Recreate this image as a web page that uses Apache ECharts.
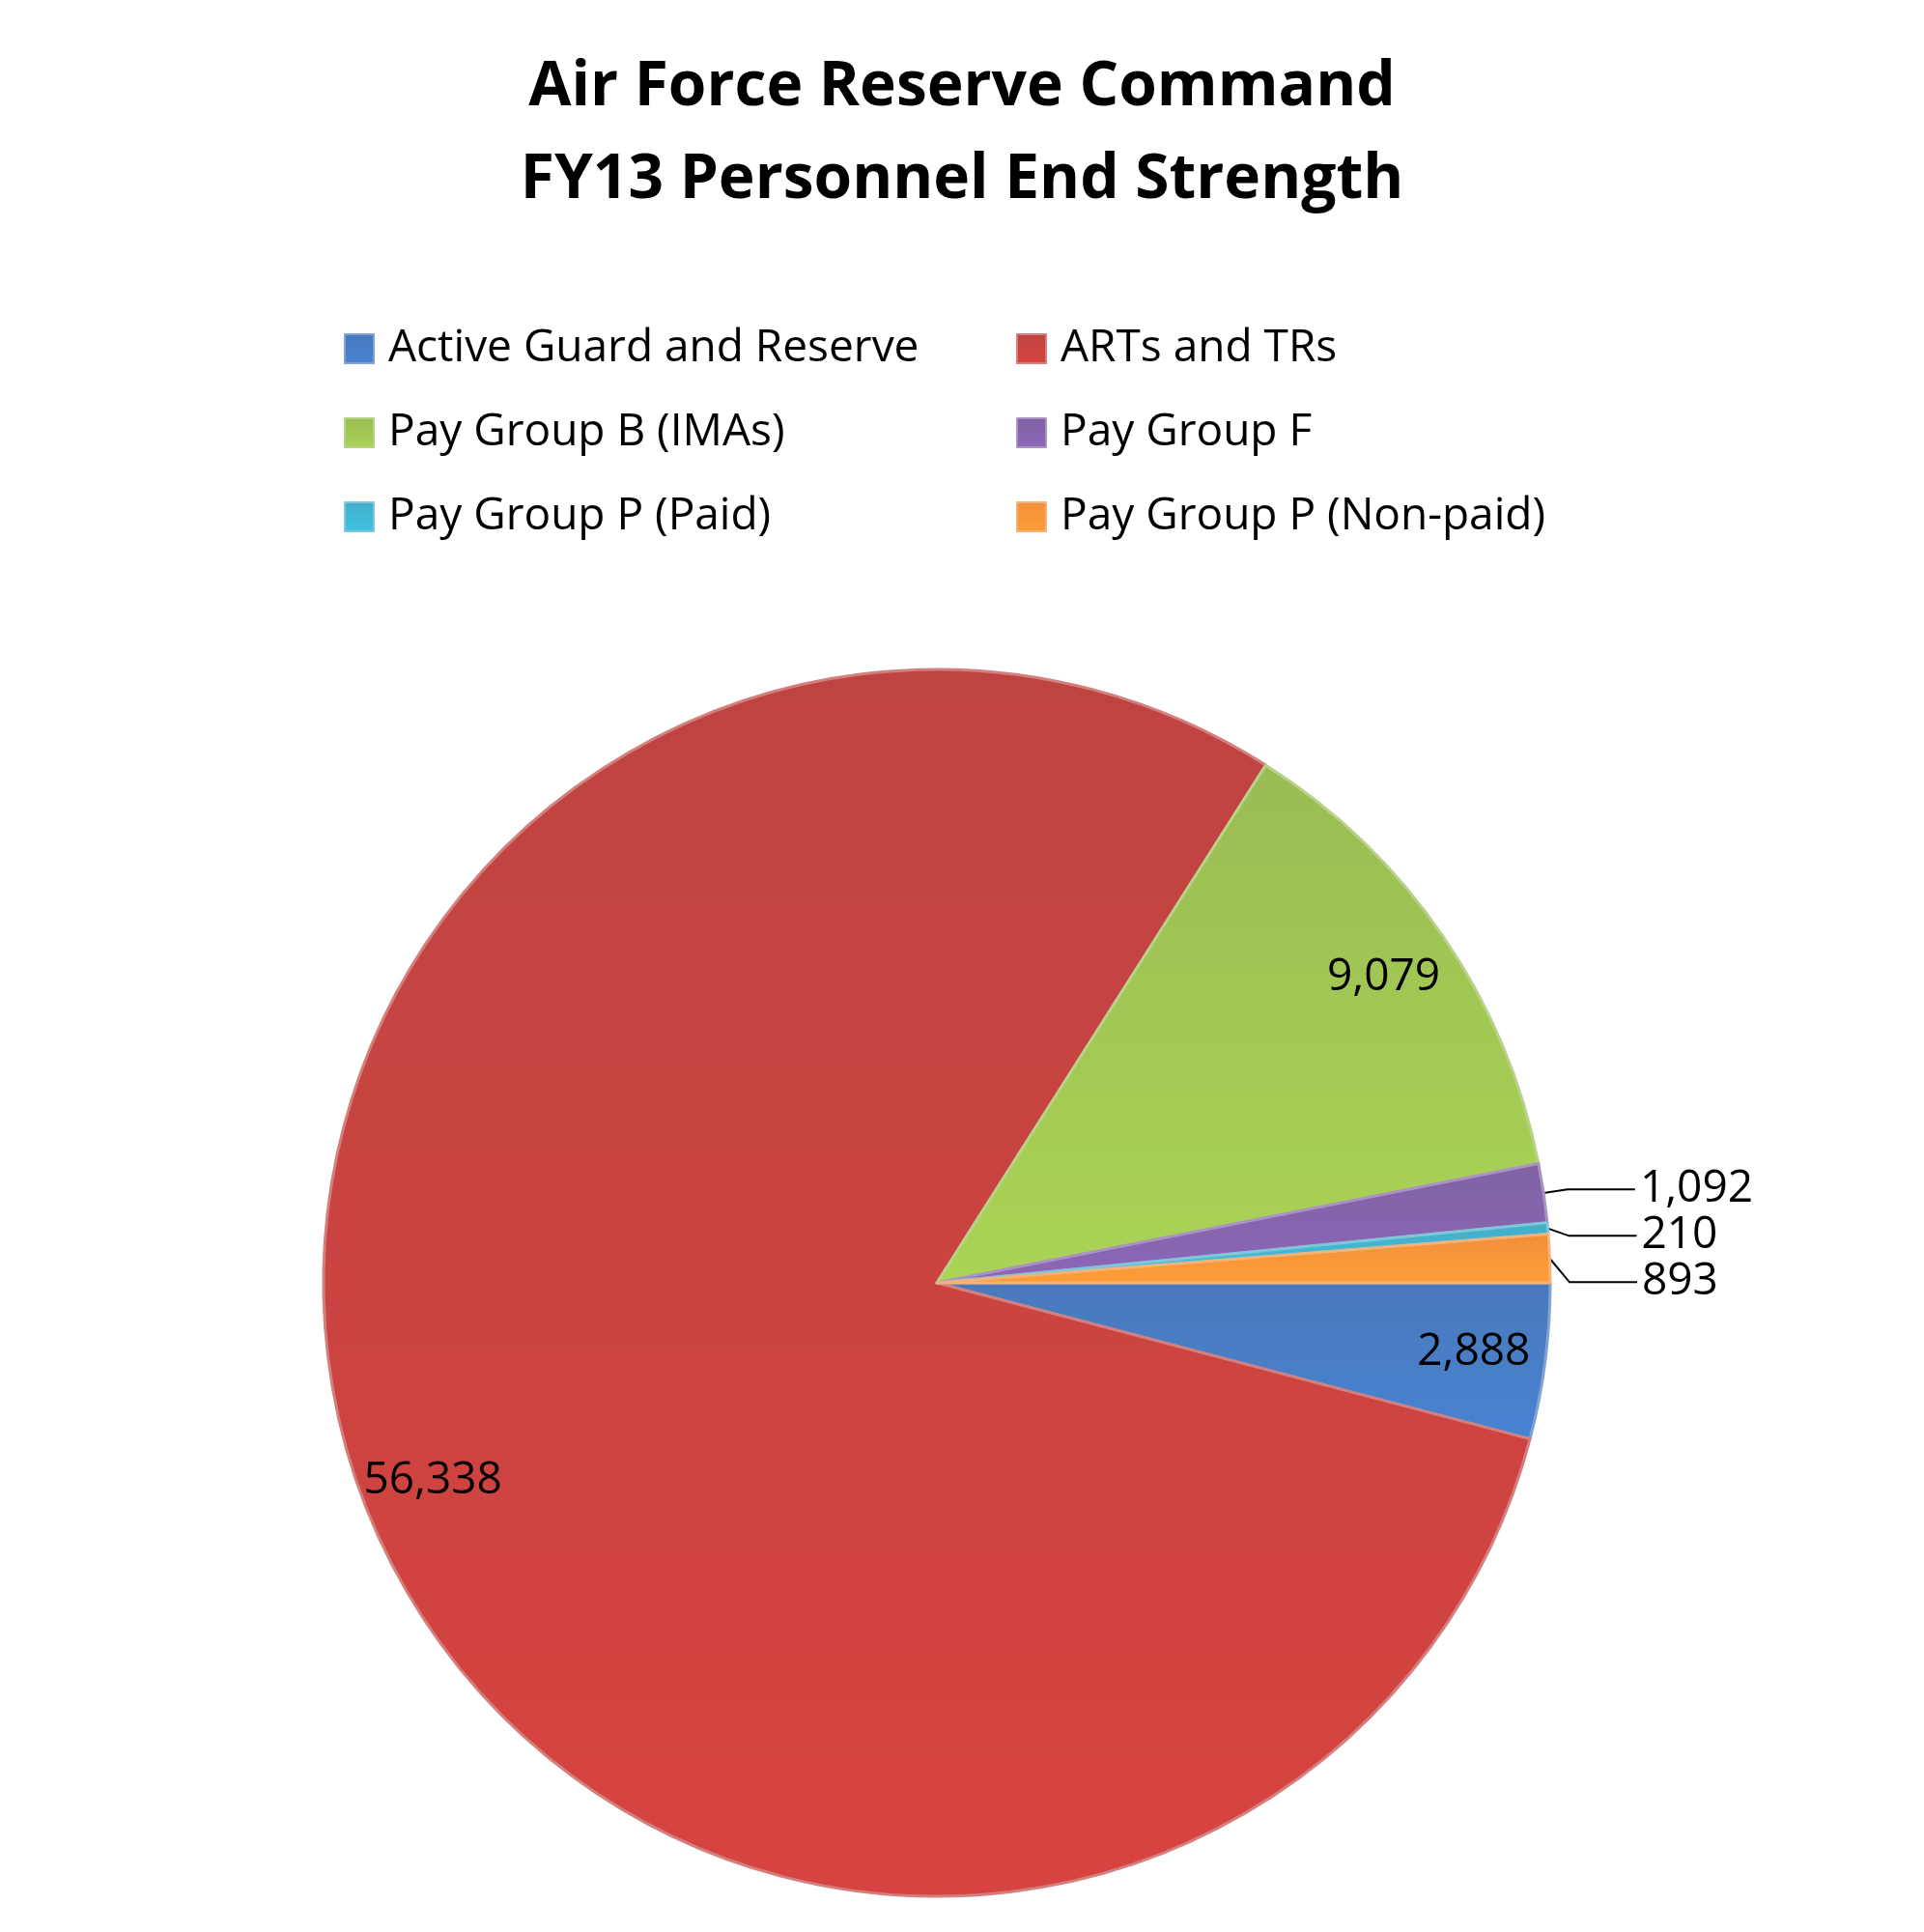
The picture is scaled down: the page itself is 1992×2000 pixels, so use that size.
<!DOCTYPE html>
<html><head><meta charset="utf-8">
<script src="https://cdn.jsdelivr.net/npm/echarts@6/dist/echarts.min.js"></script>
<style>html,body{margin:0;background:#fff}#c{width:1992px;height:2000px}</style>
</head><body><div id="c"></div>
<script>
const categories = ['Active Guard and Reserve','ARTs and TRs','Pay Group B (IMAs)','Pay Group F','Pay Group P (Paid)','Pay Group P (Non-paid)'];
const values = [2888, 56338, 9079, 1092, 210, 893];
const colors = ['#4072b8','#bb3b38','#94b94a','#7a5aa0','#3aa9c6','#f08a30'];
const insideLabels = [true, true, true, false, false, false];
const legendLeft = [categories[0], categories[2], categories[4]];
const legendRight = [categories[1], categories[3], categories[5]];

const chart = echarts.init(document.getElementById('c'));
const fmt = v => v.toLocaleString('en-US');
const shade = c => new echarts.graphic.LinearGradient(0,0,0,1,[{offset:0,color:echarts.color.lift(c,0.05)},{offset:1,color:echarts.color.lift(c,-0.15)}]);
const center = [970, 1328];
const legendBase = {orient:'vertical',top:333,itemGap:41,itemWidth:30,itemHeight:30,icon:'rect',
  textStyle:{fontFamily:'Open Sans',fontSize:46,color:'#000',padding:[0,0,0,10]}};
chart.setOption({
  backgroundColor:'#fff',
  title:{text:'Air Force Reserve Command\nFY13 Personnel End Strength',left:'center',top:38,
    textStyle:{fontFamily:'Open Sans',fontWeight:'bold',fontSize:64,lineHeight:96,color:'#000'}},
  legend:[Object.assign({left:351,data:legendLeft},legendBase),
          Object.assign({left:1047,data:legendRight},legendBase)],
  series:[{
    type:'pie',center:center,radius:[0,635],startAngle:0,clockwise:true,
    data:categories.map((n,i)=>({name:n,value:values[i],
      itemStyle:{color:shade(colors[i]),borderColor:echarts.color.lift(colors[i],0.35),borderWidth:3},
      label:{show:!insideLabels[i]},labelLine:{show:!insideLabels[i]}})),
    label:{formatter:p=>fmt(p.value),fontFamily:'Open Sans',fontSize:46,color:'#000'},
    labelLine:{length:25,length2:70,lineStyle:{color:'#000',width:2}},
    emphasis:{disabled:true},animation:false
  },{
    type:'pie',center:center,radius:[480,635],startAngle:0,clockwise:true,silent:true,
    itemStyle:{color:'transparent'},
    data:categories.map((n,i)=>({name:n,value:values[i],label:{show:insideLabels[i]}})),
    label:{position:'inside',formatter:p=>fmt(p.value),fontFamily:'Open Sans',fontSize:46,color:'#000'},
    labelLine:{show:false},legendHoverLink:false,animation:false
  }]
});
</script></body></html>
